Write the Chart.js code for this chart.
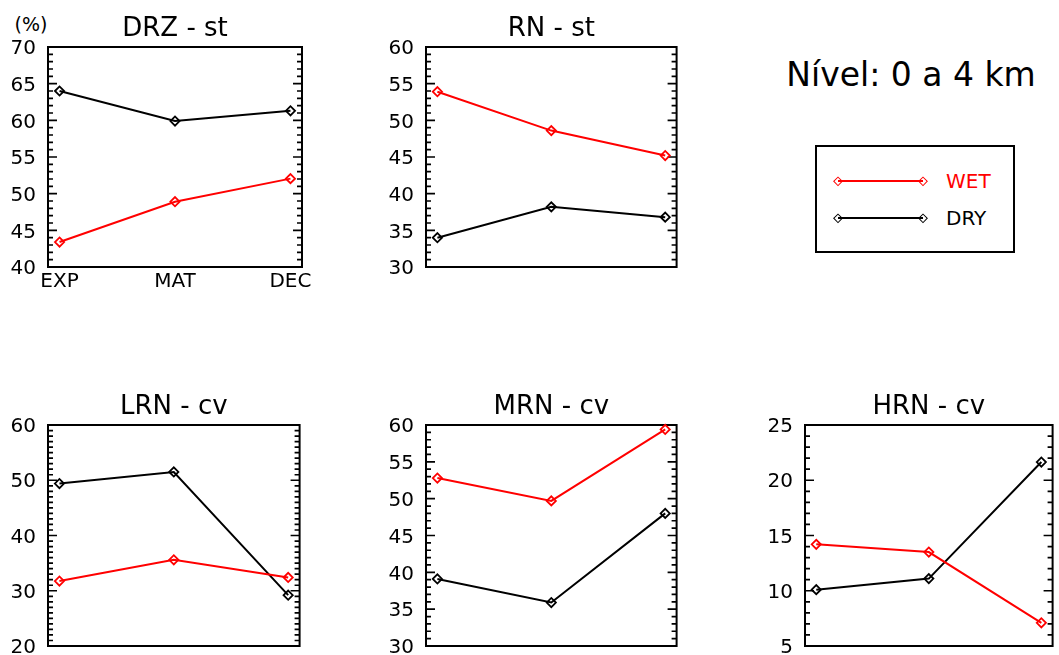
<!DOCTYPE html>
<html>
<head>
<meta charset="utf-8">
<script src="https://cdn.jsdelivr.net/npm/chart.js@4.4.1/dist/chart.umd.min.js"></script>
<style>
  body { margin: 0; background: #fff; width: 1059px; height: 655px; position: relative; overflow: hidden;
         font-family: "DejaVu Sans", sans-serif; color: #000; }
  .painel { position: absolute; }
  .texto { position: absolute; white-space: nowrap; }
  #nivel { left: 761px; top: 58px; width: 300px; text-align: center; font-size: 33px; line-height: 33px; }
  #unidade { left: 1px; top: 15px; width: 60px; text-align: center; font-size: 19px; line-height: 19px; }
  #legenda { position: absolute; left: 815px; top: 145px; width: 200px; height: 108px;
             border: 2px solid #000; box-sizing: border-box; }
  .traco { position: absolute; height: 2px; }
  .diam { position: absolute; width: 6.5px; height: 6.5px; border: 1.7px solid; box-sizing: border-box;
          background: transparent; transform: translate(-50%, -50%) rotate(45deg); }
  .rotulo { font-size: 20px; line-height: 20px; }
</style>
</head>
<body>

<div id="unidade" class="texto">(%)</div>
<div id="nivel" class="texto">Nível: 0 a 4 km</div>
<div id="legenda"></div>

<script>
// categorias do eixo x
const categorias = ["EXP", "MAT", "DEC"];

const drzWet = [43.4, 48.9, 52.05];
const drzDry = [64.0, 59.9, 61.3];
const rnWet = [53.9, 48.6, 45.2];
const rnDry = [34.0, 38.2, 36.8];
const lrnWet = [31.75, 35.6, 32.4];
const lrnDry = [49.4, 51.5, 29.2];
const mrnWet = [52.8, 49.7, 59.4];
const mrnDry = [39.1, 35.9, 48.0];
const hrnWet = [14.2, 13.5, 7.1];
const hrnDry = [10.1, 11.1, 21.65];

// marcas do eixo y
const ticksDRZ = [40, 45, 50, 55, 60, 65, 70];
const ticksRN = [30, 35, 40, 45, 50, 55, 60];
const ticksLRN = [20, 30, 40, 50, 60];
const ticksMRN = [30, 35, 40, 45, 50, 55, 60];
const ticksHRN = [5, 10, 15, 20, 25];

const series = [
  { nome: "WET", cor: "#ff0000" },
  { nome: "DRY", cor: "#000000" },
];

const FONTE = "'DejaVu Sans', sans-serif";
const EIXO_Y = 46;   // largura reservada para os rótulos do eixo y
const TOPO = 47;     // altura do título acima da área do gráfico
const ALT_X = 30;    // altura dos rótulos do eixo x (só no primeiro painel)

Chart.defaults.font.family = FONTE;
Chart.defaults.color = "#000";

// moldura com marcas internas (maiores e menores) dos dois lados
const moldura = {
  id: "moldura",
  beforeDatasetsDraw(chart, args, opts) {
    const { ctx, chartArea: a, scales: { y } } = chart;
    ctx.save();
    ctx.strokeStyle = "#000";
    ctx.lineWidth = 1.7;
    ctx.beginPath();
    for (let v = y.min; v <= y.max; v += 1) {
      const py = y.getPixelForValue(v);
      const len = (v - y.min) % opts.passoMaior === 0 ? 9 : 5;
      ctx.moveTo(a.left, py); ctx.lineTo(a.left + len, py);
      ctx.moveTo(a.right, py); ctx.lineTo(a.right - len, py);
    }
    ctx.stroke();
    ctx.lineWidth = 2;
    ctx.strokeRect(a.left, a.top, a.right - a.left, a.bottom - a.top);
    ctx.restore();
  },
};

function criarPainel({ titulo, wet, dry, ticks, caixa, mostrarX, margemDir, margemInf }) {
  const larg = (caixa.R - caixa.L) + EIXO_Y + margemDir;
  const alt = (caixa.B - caixa.T) + TOPO + (mostrarX ? ALT_X : 0) + margemInf;
  const div = document.createElement("div");
  div.className = "painel";
  div.style.left = (caixa.L - EIXO_Y) + "px";
  div.style.top = (caixa.T - TOPO) + "px";
  const canvas = document.createElement("canvas");
  canvas.width = larg; canvas.height = alt;
  canvas.style.width = larg + "px"; canvas.style.height = alt + "px";
  div.appendChild(canvas);
  document.body.appendChild(div);

  const valores = [wet, dry];
  const datasets = series.map((s, k) => ({
    label: s.nome,
    data: valores[k].map((v, i) => ({ x: i, y: v })),
    borderColor: s.cor,
    borderWidth: 2,
    pointStyle: "rectRot",
    pointRadius: 4.6,
    pointBorderWidth: 1.8,
    pointBorderColor: s.cor,
    pointBackgroundColor: "transparent",
    tension: 0,
    clip: 8,
  }));

  return new Chart(canvas, {
    type: "line",
    data: { datasets },
    plugins: [moldura],
    options: {
      responsive: false,
      animation: false,
      events: [],
      layout: { padding: { left: 0, top: 0, right: margemDir, bottom: margemInf } },
      plugins: {
        legend: { display: false },
        tooltip: { enabled: false },
        moldura: { passoMaior: ticks[1] - ticks[0] },
        title: {
          display: true, text: titulo, fullSize: false, color: "#000",
          font: { family: FONTE, size: 26, weight: "normal" },
          padding: { top: 13.4, bottom: 2.4 },
        },
      },
      scales: {
        x: {
          type: "linear", min: -0.1, max: 2.1, display: mostrarX,
          grid: { display: false, drawTicks: false }, border: { display: false },
          ticks: {
            font: { size: 20 }, color: "#000", padding: 3, maxRotation: 0, autoSkip: false,
            callback: (v) => categorias[v] ?? "",
          },
          afterBuildTicks: (s) => { s.ticks = categorias.map((c, i) => ({ value: i })); },
          afterFit: (s) => { s.height = mostrarX ? ALT_X : 0; s.paddingLeft = 0; s.paddingRight = 0; },
        },
        y: {
          min: ticks[0], max: ticks[ticks.length - 1],
          grid: { display: false, drawTicks: false }, border: { display: false },
          ticks: { font: { size: 20 }, color: "#000", padding: 12, labelOffset: 2 },
          afterBuildTicks: (s) => { s.ticks = ticks.map((v) => ({ value: v })); },
          afterFit: (s) => { s.width = EIXO_Y; s.paddingTop = 0; s.paddingBottom = 0; },
        },
      },
    },
  });
}

criarPainel({ titulo: "DRZ - st", wet: drzWet, dry: drzDry, ticks: ticksDRZ,
  caixa: { L: 48, T: 47, R: 302, B: 267 }, mostrarX: true, margemDir: 24, margemInf: 0 });
criarPainel({ titulo: "RN - st", wet: rnWet, dry: rnDry, ticks: ticksRN,
  caixa: { L: 426, T: 47, R: 679, B: 267 }, mostrarX: false, margemDir: 4, margemInf: 14 });
criarPainel({ titulo: "LRN - cv", wet: lrnWet, dry: lrnDry, ticks: ticksLRN,
  caixa: { L: 48, T: 425, R: 302, B: 646 }, mostrarX: false, margemDir: 4, margemInf: 9 });
criarPainel({ titulo: "MRN - cv", wet: mrnWet, dry: mrnDry, ticks: ticksMRN,
  caixa: { L: 426, T: 425, R: 679, B: 646 }, mostrarX: false, margemDir: 4, margemInf: 9 });
criarPainel({ titulo: "HRN - cv", wet: hrnWet, dry: hrnDry, ticks: ticksHRN,
  caixa: { L: 805, T: 425, R: 1057, B: 646 }, mostrarX: false, margemDir: 2, margemInf: 9 });

// legenda em HTML (posições absolutas na página)
const legendaY = [180.7, 217.7];
series.forEach((s, k) => {
  const y = legendaY[k];
  const traco = document.createElement("div");
  traco.className = "traco";
  Object.assign(traco.style, { left: "838px", width: "85px", top: (y - 1) + "px", background: s.cor });
  document.body.appendChild(traco);
  [838, 923].forEach((x) => {
    const d = document.createElement("div");
    d.className = "diam";
    Object.assign(d.style, { left: x + "px", top: y + "px", borderColor: s.cor });
    document.body.appendChild(d);
  });
  const t = document.createElement("div");
  t.className = "texto rotulo";
  t.textContent = s.nome;
  Object.assign(t.style, { left: "946px", top: (y - 9.6) + "px", color: s.cor });
  document.body.appendChild(t);
});
</script>
</body>
</html>
